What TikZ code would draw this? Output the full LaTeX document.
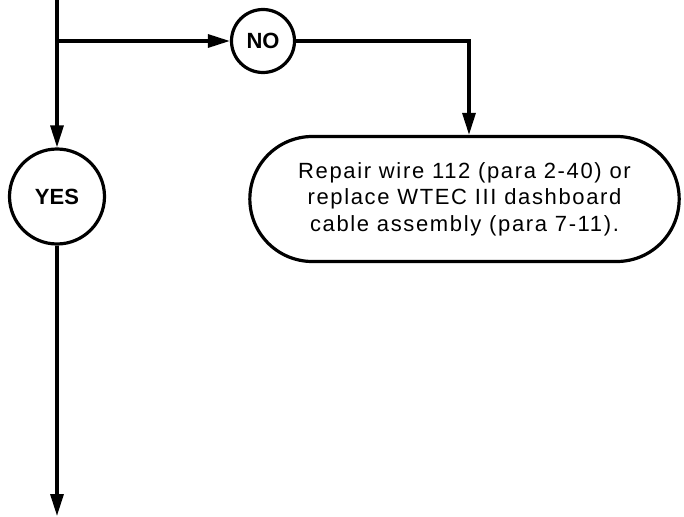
\documentclass[tikz,border=0pt]{standalone}
\usepackage{fontspec}
\setmainfont{Liberation Sans}
\usepackage{tikz}
\usetikzlibrary{arrows.meta, positioning, calc, shapes.misc}

\begin{document}
\begin{tikzpicture}[x=1pt, y=-1pt,
    flowline/.style={line width=3.2pt},
    flowarrow/.style={flowline, -{Triangle[length=22pt, width=13pt]}},
    answer/.style={circle, draw, line width=3.2pt, inner sep=0pt,
        font=\fontsize{22}{26}\selectfont\bfseries},
    action/.style={rounded rectangle, draw, line width=3.2pt,
        minimum width=436pt, minimum height=125pt, align=center,
        font=\fontsize{22}{26.5}\selectfont\addfontfeatures{LetterSpace=7.5}}]
    \useasboundingbox (0,0) rectangle (684,516);
    \coordinate (top) at (57,0);
    \coordinate (split) at (57,41);
    \coordinate (turn) at (469,41);
    \coordinate (bot) at (57,516);
    \node[answer, minimum size=63pt] (no) at (263,41) {NO};
    \node[answer, minimum size=95pt] (yes) at (57,196.5) {YES};
    \node[action] (fix) at (464.5,199)
        {Repair wire 112 (para 2-40) or\\
         replace WTEC III dashboard\\
         cable assembly (para 7-11).};
    \draw[flowarrow] (top) -- (yes);
    \draw[flowarrow] (split) -- (no);
    \draw[flowarrow] (no) -- (turn) -- (turn |- fix.north);
    \draw[flowarrow] (yes) -- (bot);
\end{tikzpicture}
\end{document}
